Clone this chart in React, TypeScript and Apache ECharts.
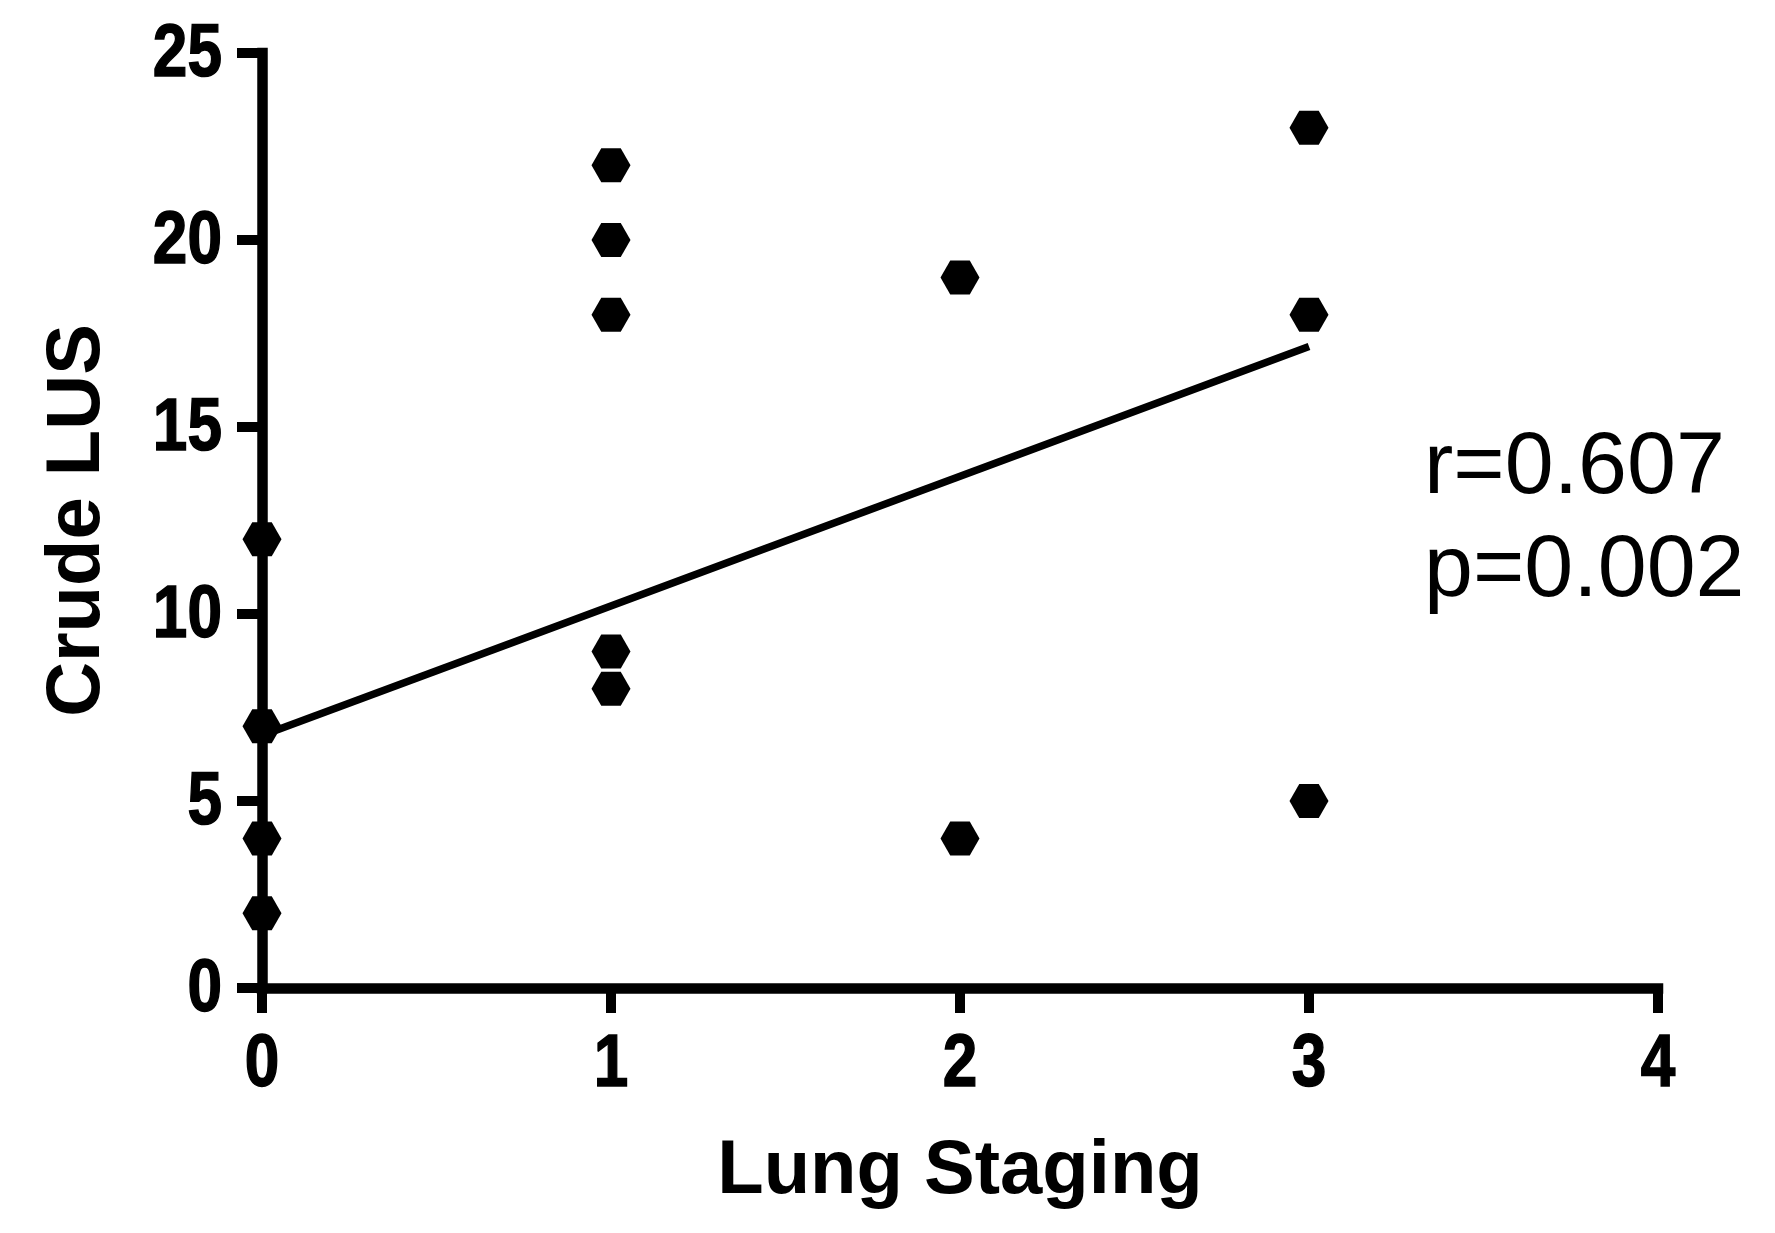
import React, { useEffect, useRef } from "react";
import * as echarts from "echarts";

const xTicks = [0, 1, 2, 3, 4];
const yTicks = [0, 5, 10, 15, 20, 25];
const stageX = [0, 0, 0, 0, 1, 1, 1, 1, 1, 2, 2, 3, 3, 3];
const lusY = [12, 7, 4, 2, 22, 20, 18, 9, 8, 19, 4, 23, 18, 5];
const fitX = [0, 3];
const fitY = [6.75, 17.15];
const statLines = ["r=0.607", "p=0.002"];

const FONT = "'Liberation Sans', Arial, Helvetica, sans-serif";
const HEX = "path://M-1,0 L-0.5,-0.866 L0.5,-0.866 L1,0 L0.5,0.866 L-0.5,0.866 Z";

export default function App() {
  const ref = useRef<HTMLDivElement>(null);
  useEffect(() => {
    if (!ref.current) return;
    const chart = echarts.init(ref.current, null, { renderer: "svg" });
    const axisCommon = {
      axisLine: { show: true, lineStyle: { color: "#000", width: 10.5, cap: "square" } },
      axisTick: { show: true, length: 25, lineStyle: { color: "#000", width: 10 } },
      axisLabel: { show: false },
      splitLine: { show: false },
      nameTextStyle: { fontFamily: FONT, fontWeight: "bold", fontSize: 76, color: "#000" },
    };
    const statGraphics = statLines.map((t, i) => ({
      type: "text",
      left: 1424,
      top: 418 + i * 103,
      style: { text: t, fontFamily: FONT, fontSize: 88, fill: "#000" },
    }));
    chart.setOption({
      animation: false,
      backgroundColor: "#fff",
      grid: { left: 262, right: 117, top: 53, bottom: 245, containLabel: false },
      xAxis: {
        type: "value",
        min: xTicks[0],
        max: xTicks[xTicks.length - 1],
        interval: 1,
        name: "Lung Staging",
        nameLocation: "middle",
        nameGap: 140,
        ...axisCommon,
      },
      yAxis: {
        type: "value",
        min: yTicks[0],
        max: yTicks[yTicks.length - 1],
        interval: 5,
        name: "Crude LUS",
        nameLocation: "middle",
        nameGap: 152,
        ...axisCommon,
      },
      series: [
        {
          type: "line",
          data: fitX.map((x, i) => [x, fitY[i]]),
          showSymbol: false,
          symbol: "none",
          lineStyle: { color: "#000", width: 7.5, opacity: 1 },
          z: 3,
        },
        {
          type: "scatter",
          data: stageX.map((x, i) => [x, lusY[i]]),
          symbol: HEX,
          symbolSize: [39, 34],
          itemStyle: { color: "#000", opacity: 1 },
          clip: false,
          z: 4,
        },
      ],
      graphic: statGraphics,
    });

    // Condensed bold tick labels, positioned through the axes' own scales
    const origin = chart.convertToPixel({ xAxisIndex: 0, yAxisIndex: 0 }, [xTicks[0], yTicks[0]]) as number[];
    const labelStyle = {
      fontFamily: FONT,
      fontWeight: "bold",
      fontSize: 74,
      fill: "#000",
      stroke: "#000",
      lineWidth: 1.5,
    };
    const yLabels = yTicks.map((v) => {
      const p = chart.convertToPixel({ xAxisIndex: 0, yAxisIndex: 0 }, [xTicks[0], v]) as number[];
      return {
        type: "text",
        x: origin[0] - 40,
        y: p[1] - 3,
        scaleX: 0.84,
        style: { ...labelStyle, text: String(v), align: "right", verticalAlign: "middle" },
      };
    });
    const xLabels = xTicks.map((v) => {
      const p = chart.convertToPixel({ xAxisIndex: 0, yAxisIndex: 0 }, [v, yTicks[0]]) as number[];
      return {
        type: "text",
        x: p[0],
        y: origin[1] + 35,
        scaleX: 0.84,
        style: { ...labelStyle, text: String(v), align: "center", verticalAlign: "top" },
      };
    });
    chart.setOption({ graphic: [...statGraphics, ...yLabels, ...xLabels] });
    return () => chart.dispose();
  }, []);
  return (
    <div
      ref={ref}
      style={{ position: "fixed", left: 0, top: 0, width: 1775, height: 1233, background: "#fff" }}
    />
  );
}
